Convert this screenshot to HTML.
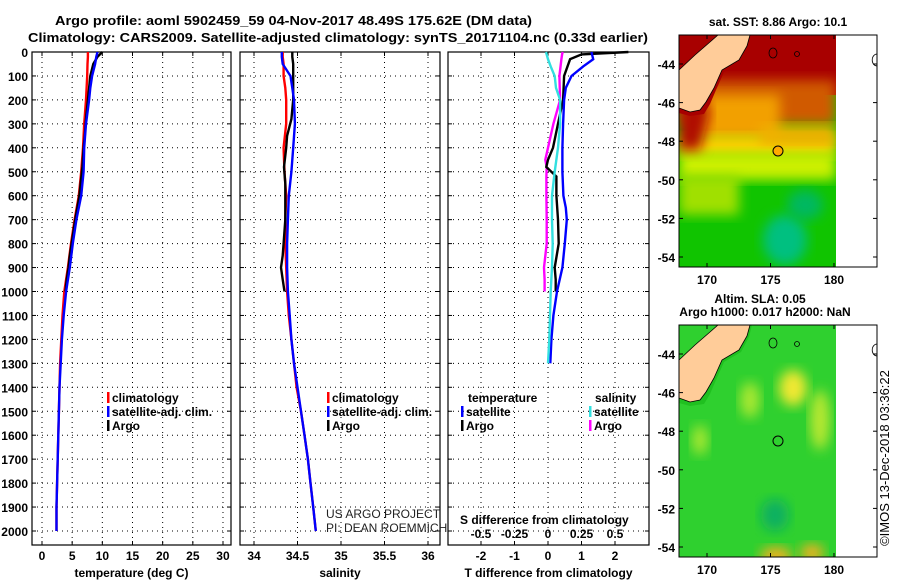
<!DOCTYPE html>
<html><head><meta charset="utf-8"><style>
html,body{margin:0;padding:0;background:#fff;}
svg{display:block;font-family:"Liberation Sans",sans-serif;}
.t{font-weight:bold;font-size:13px;fill:#000;}
.tk{font-weight:bold;font-size:12px;fill:#000;}
</style></head><body>
<svg id="chart" width="900" height="580" viewBox="0 0 900 580" xmlns="http://www.w3.org/2000/svg">
<defs>
<filter id="blur" x="-20%" y="-20%" width="140%" height="140%"><feGaussianBlur stdDeviation="6"/></filter>
<clipPath id="m1clip"><rect x="679" y="35" width="157" height="232"/></clipPath>
<clipPath id="m2clip"><rect x="679" y="325" width="157" height="232"/></clipPath>
</defs>
<text class="t" x="55" y="25" textLength="477" lengthAdjust="spacingAndGlyphs">Argo profile: aoml 5902459_59 04-Nov-2017 48.49S 175.62E (DM data)</text>
<text class="t" x="28" y="42" textLength="620" lengthAdjust="spacingAndGlyphs">Climatology: CARS2009. Satellite-adjusted climatology: synTS_20171104.nc (0.33d earlier)</text>
<g id="panels"></g>

<!-- SST map -->
<g>
<text class="tk" x="778" y="26" text-anchor="middle">sat. SST: 8.86 Argo: 10.1</text>
<g clip-path="url(#m1clip)">
<rect x="679" y="35" width="157" height="232" fill="#10c400"/>
<rect x="679" y="35" width="157" height="60" fill="#a80000"/>
<rect x="679" y="80" width="157" height="45" fill="#d05a00" filter="url(#blur)"/>
<rect x="690" y="95" width="90" height="45" fill="#f2a000" filter="url(#blur)"/>
<rect x="679" y="135" width="157" height="22" fill="#ffd000" filter="url(#blur)"/>
<rect x="760" y="125" width="76" height="20" fill="#f0b000" filter="url(#blur)"/>
<rect x="679" y="152" width="157" height="28" fill="#ccf000" filter="url(#blur)"/>
<rect x="679" y="175" width="60" height="40" fill="#a0e000" filter="url(#blur)"/>
<ellipse cx="785" cy="240" rx="22" ry="25" fill="#00c080" filter="url(#blur)"/>
<ellipse cx="805" cy="205" rx="18" ry="15" fill="#00b860" filter="url(#blur)"/>
<path d="M679,95 L700,90 L710,112 L700,150 L679,150 Z" fill="#b01000" filter="url(#blur)"/>
<path d="M679,70 L695,55 L710,42 L720,35 L752,35 L749,47 L741,62 L724,72 L716,90 L710,104 L704,114 L690,116 L679,113 Z" fill="#a80000"/>
<path d="M679,70 L695,55 L710,42 L718,35 L750,35 L747,46 L739,60 L722,70 L714,88 L706,102 L700,110 L690,112 L679,108 Z" fill="#ffcc99" stroke="#000" stroke-width="0.8"/>
<rect x="836" y="35" width="41" height="232" fill="#fff"/>
</g>
<rect x="679" y="35" width="198" height="232" fill="none" stroke="#000"/>
<ellipse cx="773" cy="53" rx="4" ry="5" fill="none" stroke="#000" stroke-width="0.8"/>
<circle cx="797" cy="54" r="2.5" fill="none" stroke="#000" stroke-width="0.8"/>
<path d="M877,54 A4,5 0 0 0 877,66" fill="none" stroke="#000" stroke-width="0.8"/>
<circle cx="778" cy="151" r="5" fill="#ffaa00" stroke="#000"/>
</g>

<!-- SLA map -->
<g>
<text class="tk" x="760" y="303" text-anchor="middle">Altim. SLA: 0.05</text>
<text class="tk" x="765" y="316" text-anchor="middle">Argo h1000: 0.017 h2000: NaN</text>
<g clip-path="url(#m2clip)">
<rect x="679" y="325" width="157" height="232" fill="#2fd02f"/>
<ellipse cx="793" cy="388" rx="14" ry="18" fill="#f0e830" filter="url(#blur)"/>
<ellipse cx="750" cy="400" rx="10" ry="18" fill="#a8e830" filter="url(#blur)"/>
<ellipse cx="820" cy="420" rx="10" ry="30" fill="#b8e830" filter="url(#blur)"/>
<ellipse cx="700" cy="440" rx="8" ry="15" fill="#a8e830" filter="url(#blur)"/>
<ellipse cx="775" cy="515" rx="14" ry="16" fill="#10b060" filter="url(#blur)"/>
<ellipse cx="776" cy="556" rx="16" ry="9" fill="#f0b020" filter="url(#blur)"/>
<ellipse cx="812" cy="553" rx="12" ry="9" fill="#f0b020" filter="url(#blur)"/>
<path d="M679,360 L695,345 L710,332 L720,325 L752,325 L749,337 L741,352 L724,362 L716,380 L710,394 L704,404 L690,406 L679,403 Z" fill="#20c020"/>
<path d="M679,360 L695,345 L710,332 L718,325 L750,325 L747,336 L739,350 L722,360 L714,378 L706,392 L700,400 L690,402 L679,398 Z" fill="#ffcc99" stroke="#000" stroke-width="0.8"/>
<rect x="836" y="325" width="41" height="232" fill="#fff"/>
</g>
<rect x="679" y="325" width="198" height="232" fill="none" stroke="#000"/>
<ellipse cx="773" cy="343" rx="4" ry="5" fill="none" stroke="#000" stroke-width="0.8"/>
<circle cx="797" cy="344" r="2.5" fill="none" stroke="#000" stroke-width="0.8"/>
<path d="M877,344 A4,5 0 0 0 877,356" fill="none" stroke="#000" stroke-width="0.8"/>
<circle cx="778" cy="441" r="5" fill="none" stroke="#000"/>
</g>
<text x="889" y="458" font-size="13" text-anchor="middle" transform="rotate(-90 889 458)">©IMOS 13-Dec-2018 03:36:22</text>
<g id="maps-axes"></g>
</svg>
<script>
// depth levels shared by profiles
const depths = [0,20,50,100,150,200,300,400,500,600,700,800,900,1000,1100,1200,1300,1400,1500,1600,1700,1800,1900,2000];
const tempClim = [7.6,7.6,7.55,7.5,7.4,7.3,7.0,6.8,6.5,6.1,5.4,4.8,4.3,3.7,3.4,3.2,3.0,2.9,2.8,2.7,2.6,2.5,2.4,2.4];
const tempSat  = [9.2,9.0,8.8,8.3,8.0,7.8,7.3,7.0,6.9,6.5,5.7,5.1,4.6,4.0,3.6,3.3,3.1,2.9,2.8,2.7,2.6,2.5,2.4,2.4];
const argoDepths = [0,20,50,100,150,200,280,350,400,480,550,600,700,800,850,900,950,1000];
const tempArgo = [10.0,9.2,8.5,8.0,7.8,7.6,7.3,7.1,6.9,6.7,6.4,6.2,5.5,4.9,4.6,4.4,4.1,3.9];
const salClim = [34.33,34.33,34.34,34.34,34.36,34.37,34.37,34.34,34.35,34.37,34.36,34.36,34.37,34.38,34.40,34.43,34.46,34.49,34.54,34.58,34.62,34.65,34.68,34.71];
const salSat  = [34.32,34.32,34.33,34.42,34.44,34.46,34.47,34.45,34.43,34.40,34.39,34.38,34.38,34.39,34.41,34.43,34.46,34.50,34.54,34.58,34.62,34.65,34.68,34.71];
const salArgo = [34.44,34.44,34.45,34.45,34.45,34.45,34.43,34.38,34.37,34.345,34.36,34.36,34.36,34.34,34.33,34.31,34.33,34.35];
const diffDepths = [0,30,60,100,150,200,300,400,500,600,650,700,800,900,1000,1100,1200,1300];
const tDiffSat = [1.3,1.35,1.05,0.7,0.53,0.48,0.45,0.43,0.43,0.46,0.53,0.56,0.5,0.43,0.27,0.16,0.1,0.07];
const sDiffSat = [-0.015,0.0,0.02,0.05,0.06,0.09,0.09,0.075,0.05,0.03,0.03,0.03,0.035,0.03,0.02,0.015,0.01,0.0];
const argoDiffDepths = [0,10,30,100,200,300,400,450,480,520,600,700,800,900,950,1000];
const tDiffArgo = [2.4,1.0,0.66,0.48,0.45,0.3,0.15,0.0,-0.05,0.25,0.25,0.3,0.32,0.2,0.23,0.23];
const sDiffArgo = [0.11,0.105,0.1,0.085,0.09,0.04,0.0,-0.02,-0.01,-0.012,-0.012,-0.01,-0.01,-0.03,-0.025,-0.025];
const depthTicks = [0,100,200,300,400,500,600,700,800,900,1000,1100,1200,1300,1400,1500,1600,1700,1800,1900,2000];
const tempTicks = [0,5,10,15,20,25,30];
const salTicks = [34,34.5,35,35.5,36];
const tDiffTicks = [-2,-1,0,1,2];
const sDiffTicks = [-0.5,-0.25,0,0.25,0.5];
const lonTicks = [170,175,180];
const latTicks = [-44,-46,-48,-50,-52,-54];

const NS='http://www.w3.org/2000/svg';
const g=document.getElementById('panels');
function mk(tag,attrs,parent){const e=document.createElementNS(NS,tag);for(const k in attrs)e.setAttribute(k,attrs[k]);(parent||g).appendChild(e);return e;}
function txt(s,attrs,parent){const e=mk('text',attrs,parent);e.textContent=s;return e;}
const TOP=52,BOT=545;
const yD=d=>TOP+d*0.2395;
const xT=v=>42+v*6.033;
const xS=v=>254+(v-34)*87;
const xTD=v=>548+v*33.5;
const xSD=v=>548+v*134;

function panel(name,x0,x1,ticks,xf,title,labels){
  const p=mk('g',{});
  
  
  ticks.forEach((t,i)=>{
    const x=xf(t);
    const l=mk('line',{x1:x,x2:x,y1:TOP,y2:BOT,stroke:'#000','stroke-width':1,'stroke-dasharray':'1,4'},p);
    
    
    mk('line',{x1:x,x2:x,y1:BOT,y2:BOT-4,stroke:'#000'},p);
    mk('line',{x1:x,x2:x,y1:TOP,y2:TOP+4,stroke:'#000'},p);
    const tl=txt(labels?labels[i]:String(t),{x:x,y:560,'text-anchor':'middle',class:'tk'},p);
    
    
  });
  depthTicks.forEach(d=>{
    const y=yD(d);
    if(d>0){const l=mk('line',{x1:x0,x2:x1,y1:y,y2:y,stroke:'#000','stroke-width':1,'stroke-dasharray':'1,4'},p);
    
    }
    mk('line',{x1:x0,x2:x0+4,y1:y,y2:y,stroke:'#000'},p);
    mk('line',{x1:x1,x2:x1-4,y1:y,y2:y,stroke:'#000'},p);
  });
  const r=mk('rect',{x:x0,y:TOP,width:x1-x0,height:BOT-TOP,fill:'none',stroke:'#000','stroke-width':1.2},p);
  
  
  const at=txt(title,{x:(x0+x1)/2,y:577,'text-anchor':'middle',class:'tk'},p);
  
  
  return p;
}
function line(p,name,ds,vs,xf,color){
  const pts=ds.map((d,i)=>xf(vs[i]).toFixed(1)+','+yD(d).toFixed(1)).join(' ');
  const l=mk('polyline',{points:pts,fill:'none',stroke:color,'stroke-width':2.4,'stroke-linejoin':'miter'},p);
  
  
}
function legend(p,x,y,color,label,name){
  mk('rect',{x:x,y:y-10,width:2.5,height:11,fill:color},p);
  const t=txt(label,{x:x+5,y:y,class:'tk'},p);
  
  
}
depthTicks.forEach(d=>{
  const t=txt(String(d),{x:28,y:yD(d)+5,'text-anchor':'end',class:'tk'});
  
  
});
const p1=panel('temperature-panel',32,231,tempTicks,xT,'temperature (deg C)');
line(p1,'temperature-climatology-line',depths,tempClim,xT,'#ff0000');
line(p1,'temperature-argo-line',argoDepths,tempArgo,xT,'#000');
line(p1,'temperature-satellite-line',depths,tempSat,xT,'#0000ff');
legend(p1,107,402,'#ff0000','climatology','legend-climatology');
legend(p1,107,416,'#0000ff','satellite-adj. clim.','legend-satellite');
legend(p1,107,430,'#000','Argo','legend-argo');
const p2=panel('salinity-panel',240,440,salTicks,xS,'salinity');
line(p2,'salinity-climatology-line',depths,salClim,xS,'#ff0000');
line(p2,'salinity-argo-line',argoDepths,salArgo,xS,'#000');
line(p2,'salinity-satellite-line',depths,salSat,xS,'#0000ff');
legend(p2,327,402,'#ff0000','climatology','legend-climatology');
legend(p2,327,416,'#0000ff','satellite-adj. clim.','legend-satellite');
legend(p2,327,430,'#000','Argo','legend-argo');
const c1=txt('US ARGO PROJECT',{x:326,y:518,'font-size':12,fill:'#222'},p2);


const c2=txt('PI: DEAN ROEMMICH',{x:326,y:532,'font-size':12,fill:'#222'},p2);


const p3=panel('difference-panel',448,649,tDiffTicks,xTD,'T difference from climatology');
line(p3,'s-diff-argo-line',argoDiffDepths,sDiffArgo,xSD,'#ff00ff');
line(p3,'t-diff-argo-line',argoDiffDepths,tDiffArgo,xTD,'#000');
line(p3,'t-diff-satellite-line',diffDepths,tDiffSat,xTD,'#0000ff');
line(p3,'s-diff-satellite-line',diffDepths,sDiffSat,xSD,'#33e0e0');
const lt=txt('temperature',{x:468,y:402,class:'tk'},p3);


const ls=txt('salinity',{x:595,y:402,class:'tk'},p3);


legend(p3,461,416,'#0000ff','satellite','legend-t-satellite');
legend(p3,461,430,'#000','Argo','legend-t-argo');
legend(p3,589,416,'#33e0e0','satellite','legend-s-satellite');
legend(p3,589,430,'#ff00ff','Argo','legend-s-argo');
const st=txt('S difference from climatology',{x:460,y:524,class:'tk'},p3);


sDiffTicks.forEach(v=>{
  const t=txt(String(v),{x:xSD(v),y:538,'text-anchor':'middle',class:'tk'},p3);
  
  
});
const ma=document.getElementById('maps-axes');
const xLon=v=>707+(v-170)*12.7;
[[35,267,64],[325,557,354]].forEach(([t,b,l44])=>{
  lonTicks.forEach(v=>{
    const x=xLon(v);
    mk('line',{x1:x,x2:x,y1:b,y2:b-4,stroke:'#000'},ma);
    mk('line',{x1:x,x2:x,y1:t,y2:t+4,stroke:'#000'},ma);
    const e=txt(String(v),{x:x,y:b+17,'text-anchor':'middle',class:'tk'},ma);
    
    
  });
  latTicks.forEach(v=>{
    const y=l44+(-44-v)*19.3;
    mk('line',{x1:679,x2:683,y1:y,y2:y,stroke:'#000'},ma);
    mk('line',{x1:877,x2:873,y1:y,y2:y,stroke:'#000'},ma);
    const e=txt(String(v),{x:675,y:y+5,'text-anchor':'end',class:'tk'},ma);
    
    
  });
});
</script>
</body></html>
